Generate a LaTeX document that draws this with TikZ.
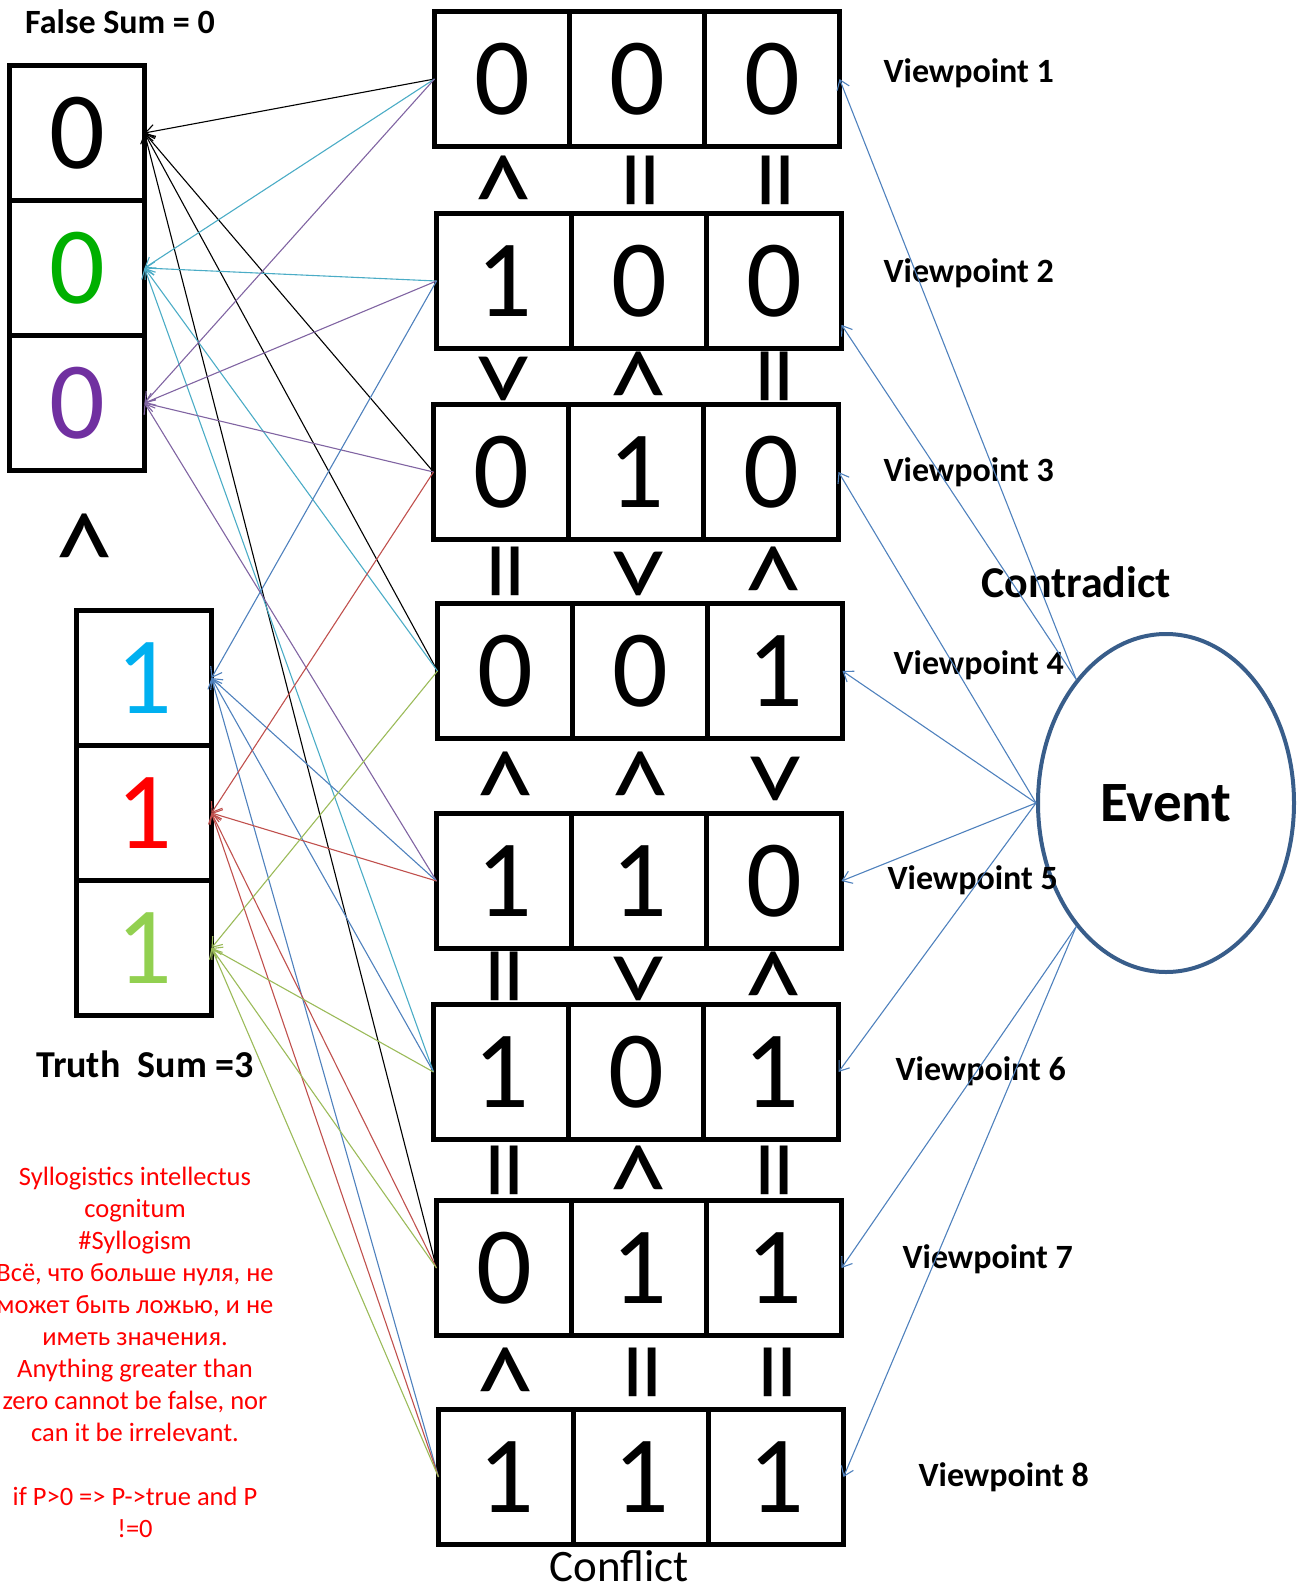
\documentclass[tikz,border=0pt]{standalone}
\usepackage{fontspec}
\setmainfont{Carlito}
\definecolor{accblue}{RGB}{79,129,189}
\definecolor{accaqua}{RGB}{75,172,198}
\definecolor{accpurple}{RGB}{128,100,162}
\definecolor{accred}{RGB}{192,80,77}
\definecolor{accgreen}{RGB}{155,187,89}
\definecolor{ringblue}{RGB}{56,93,138}
\colorlet{zerogreen}{green!69!black}
\definecolor{zeropurple}{RGB}{112,48,160}
\definecolor{onecyan}{RGB}{0,176,240}
\definecolor{onered}{RGB}{255,0,0}
\definecolor{onelime}{RGB}{146,208,80}
\usetikzlibrary{calc, positioning, arrows.meta, shapes.geometric}

\begin{document}
\begin{tikzpicture}[x=1pt, y=-1pt,
  cell/.style={draw, line width=4.5pt, minimum width=135pt, minimum height=135pt,
    inner sep=0pt, outer sep=0pt, font=\fontsize{110}{110}\selectfont},
  rel/.style={rotate=-90, inner sep=0pt, font=\fontsize{120}{120}\selectfont},
  vp/.style={anchor=west, font=\fontsize{34}{40}\selectfont\bfseries},
  link/.style={line width=1.1pt, -{Straight Barb[length=9pt, width=13pt]}},
  node distance=0pt,
]
  \useasboundingbox (0,0) rectangle (1304,1592);

  % viewpoint rows
  \node[cell] (r1a) at (502,79) {0};
  \node[cell, right=of r1a] (r1b) {0};
  \node[cell, right=of r1b] (r1c) {0};
  \node[cell] (r2a) at (504,281) {1};
  \node[cell, right=of r2a] (r2b) {0};
  \node[cell, right=of r2b] (r2c) {0};
  \node[cell] (r3a) at (501,472) {0};
  \node[cell, right=of r3a] (r3b) {1};
  \node[cell, right=of r3b] (r3c) {0};
  \node[cell] (r4a) at (505,671) {0};
  \node[cell, right=of r4a] (r4b) {0};
  \node[cell, right=of r4b] (r4c) {1};
  \node[cell] (r5a) at (504,881) {1};
  \node[cell, right=of r5a] (r5b) {1};
  \node[cell, right=of r5b] (r5c) {0};
  \node[cell] (r6a) at (501,1072) {1};
  \node[cell, right=of r6a] (r6b) {0};
  \node[cell, right=of r6b] (r6c) {1};
  \node[cell] (r7a) at (504,1268) {0};
  \node[cell, right=of r7a] (r7b) {1};
  \node[cell, right=of r7b] (r7c) {1};
  \node[cell] (r8a) at (506,1477) {1};
  \node[cell, right=of r8a] (r8b) {1};
  \node[cell, right=of r8b] (r8c) {1};

  % comparisons between rows
  \node[rel] at ($(r1a.south)!0.5!(r2a.north)+(-6,0)$) {<};
  \node[rel] at ($(r1b.south)!0.5!(r2b.north)+(-10,0)$) {=};
  \node[rel] at ($(r1c.south)!0.5!(r2c.north)+(-10,0)$) {=};
  \node[rel] at ($(r2a.south)!0.5!(r3a.north)+(-6,0)$) {>};
  \node[rel] at ($(r2b.south)!0.5!(r3b.north)+(-6,0)$) {<};
  \node[rel] at ($(r2c.south)!0.5!(r3c.north)+(-10,0)$) {=};
  \node[rel] at ($(r3a.south)!0.5!(r4a.north)+(-10,0)$) {=};
  \node[rel] at ($(r3b.south)!0.5!(r4b.north)+(-6,0)$) {>};
  \node[rel] at ($(r3c.south)!0.5!(r4c.north)+(-6,0)$) {<};
  \node[rel] at ($(r4a.south)!0.5!(r5a.north)+(-6,0)$) {<};
  \node[rel] at ($(r4b.south)!0.5!(r5b.north)+(-6,0)$) {<};
  \node[rel] at ($(r4c.south)!0.5!(r5c.north)+(-6,0)$) {>};
  \node[rel] at ($(r5a.south)!0.5!(r6a.north)+(-10,0)$) {=};
  \node[rel] at ($(r5b.south)!0.5!(r6b.north)+(-6,0)$) {>};
  \node[rel] at ($(r5c.south)!0.5!(r6c.north)+(-6,0)$) {<};
  \node[rel] at ($(r6a.south)!0.5!(r7a.north)+(-10,0)$) {=};
  \node[rel] at ($(r6b.south)!0.5!(r7b.north)+(-6,0)$) {<};
  \node[rel] at ($(r6c.south)!0.5!(r7c.north)+(-10,0)$) {=};
  \node[rel] at ($(r7a.south)!0.5!(r8a.north)+(-6,0)$) {<};
  \node[rel] at ($(r7b.south)!0.5!(r8b.north)+(-10,0)$) {=};
  \node[rel] at ($(r7c.south)!0.5!(r8c.north)+(-10,0)$) {=};

  % false and truth columns
  \node[font=\fontsize{34}{40}\selectfont\bfseries] (fsum) at (120,22) {False Sum = 0};
  \node[cell] (f1) at (77,133) {0};
  \node[cell, below=of f1, text=zerogreen] (f2) {0};
  \node[cell, below=of f2, text=zeropurple] (f3) {0};
  \node[rel] (less) at (78,538) {<};
  \node[cell, text=onecyan] (t1) at (144,678) {1};
  \node[cell, below=of t1, text=onered] (t2) {1};
  \node[cell, below=of t2, text=onelime] (t3) {1};
  \node[font=\fontsize{38}{44}\selectfont\bfseries] (tsum) at (145,1064) {Truth\ \ Sum =3};

  \node[align=center, text=onered, font=\fontsize{26.5}{32}\selectfont] (note) at (135,1352)
    {Syllogistics intellectus\\ cognitum\\ \#Syllogism\\ Всё, что больше нуля, не\\
     может быть ложью, и не\\ иметь значения.\\ Anything greater than\\
     zero cannot be false, nor\\ can it be irrelevant.\\[32pt] if P>0 => P->true and P\\ !=0};

  % event side
  \node[draw=ringblue, line width=4pt, ellipse, minimum width=256pt, minimum height=338pt,
    inner sep=0pt, font=\fontsize{57}{60}\selectfont\bfseries] (ev) at (1166,803) {Event};
  \node[font=\fontsize{44}{50}\selectfont\bfseries] (contra) at (1076,582) {Contradict};
  \node[font=\fontsize{45}{50}\selectfont] (conf) at (619,1566) {Conflict};

  \node[vp] (v1) at (880,73) {Viewpoint 1};
  \node[vp] (v2) at (880,273) {Viewpoint 2};
  \node[vp] (v3) at (880,472) {Viewpoint 3};
  \node[vp] (v4) at (890,665) {Viewpoint 4};
  \node[vp] (v5) at (884,880) {Viewpoint 5};
  \node[vp] (v6) at (892,1071) {Viewpoint 6};
  \node[vp] (v7) at (899,1259) {Viewpoint 7};
  \node[vp] (v8) at (915,1477) {Viewpoint 8};

  % rows to the columns
  \draw[link, black] (r1a.west) -- (f1.east);
  \draw[link, black] (r3a.west) -- (f1.east);
  \draw[link, black] (r4a.west) -- (f1.east);
  \draw[link, black] (r7a.west) -- (f1.east);
  \draw[link, accaqua] (r1a.west) -- (f2.east);
  \draw[link, accaqua] (r2a.west) -- (f2.east);
  \draw[link, accaqua] (r4a.west) -- (f2.east);
  \draw[link, accaqua] (r6a.west) -- (f2.east);
  \draw[link, accpurple] (r1a.west) -- (f3.east);
  \draw[link, accpurple] (r2a.west) -- (f3.east);
  \draw[link, accpurple] (r3a.west) -- (f3.east);
  \draw[link, accpurple] (r5a.west) -- (f3.east);
  \draw[link, accblue] (r2a.west) -- (t1.east);
  \draw[link, accblue] (r5a.west) -- (t1.east);
  \draw[link, accblue] (r6a.west) -- (t1.east);
  \draw[link, accblue] (r8a.west) -- (t1.east);
  \draw[link, accred] (r3a.west) -- (t2.east);
  \draw[link, accred] (r5a.west) -- (t2.east);
  \draw[link, accred] (r7a.west) -- (t2.east);
  \draw[link, accred] (r8a.west) -- (t2.east);
  \draw[link, accgreen] (r4a.west) -- (t3.east);
  \draw[link, accgreen] (r6a.west) -- (t3.east);
  \draw[link, accgreen] (r7a.west) -- (t3.east);
  \draw[link, accgreen] (r8a.west) -- (t3.east);

  % event to rows
  \draw[link, accblue] (ev.126) -- (r1c.east);
  \draw[link, accblue] (ev.126) -- (r2c.-33);
  \draw[link, accblue] (ev.west) -- (r3c.east);
  \draw[link, accblue] (ev.west) -- (r4c.east);
  \draw[link, accblue] (ev.west) -- (r5c.east);
  \draw[link, accblue] (ev.west) -- (r6c.east);
  \draw[link, accblue] (ev.234) -- (r7c.east);
  \draw[link, accblue] (ev.234) -- (r8c.east);
\end{tikzpicture}
\end{document}
